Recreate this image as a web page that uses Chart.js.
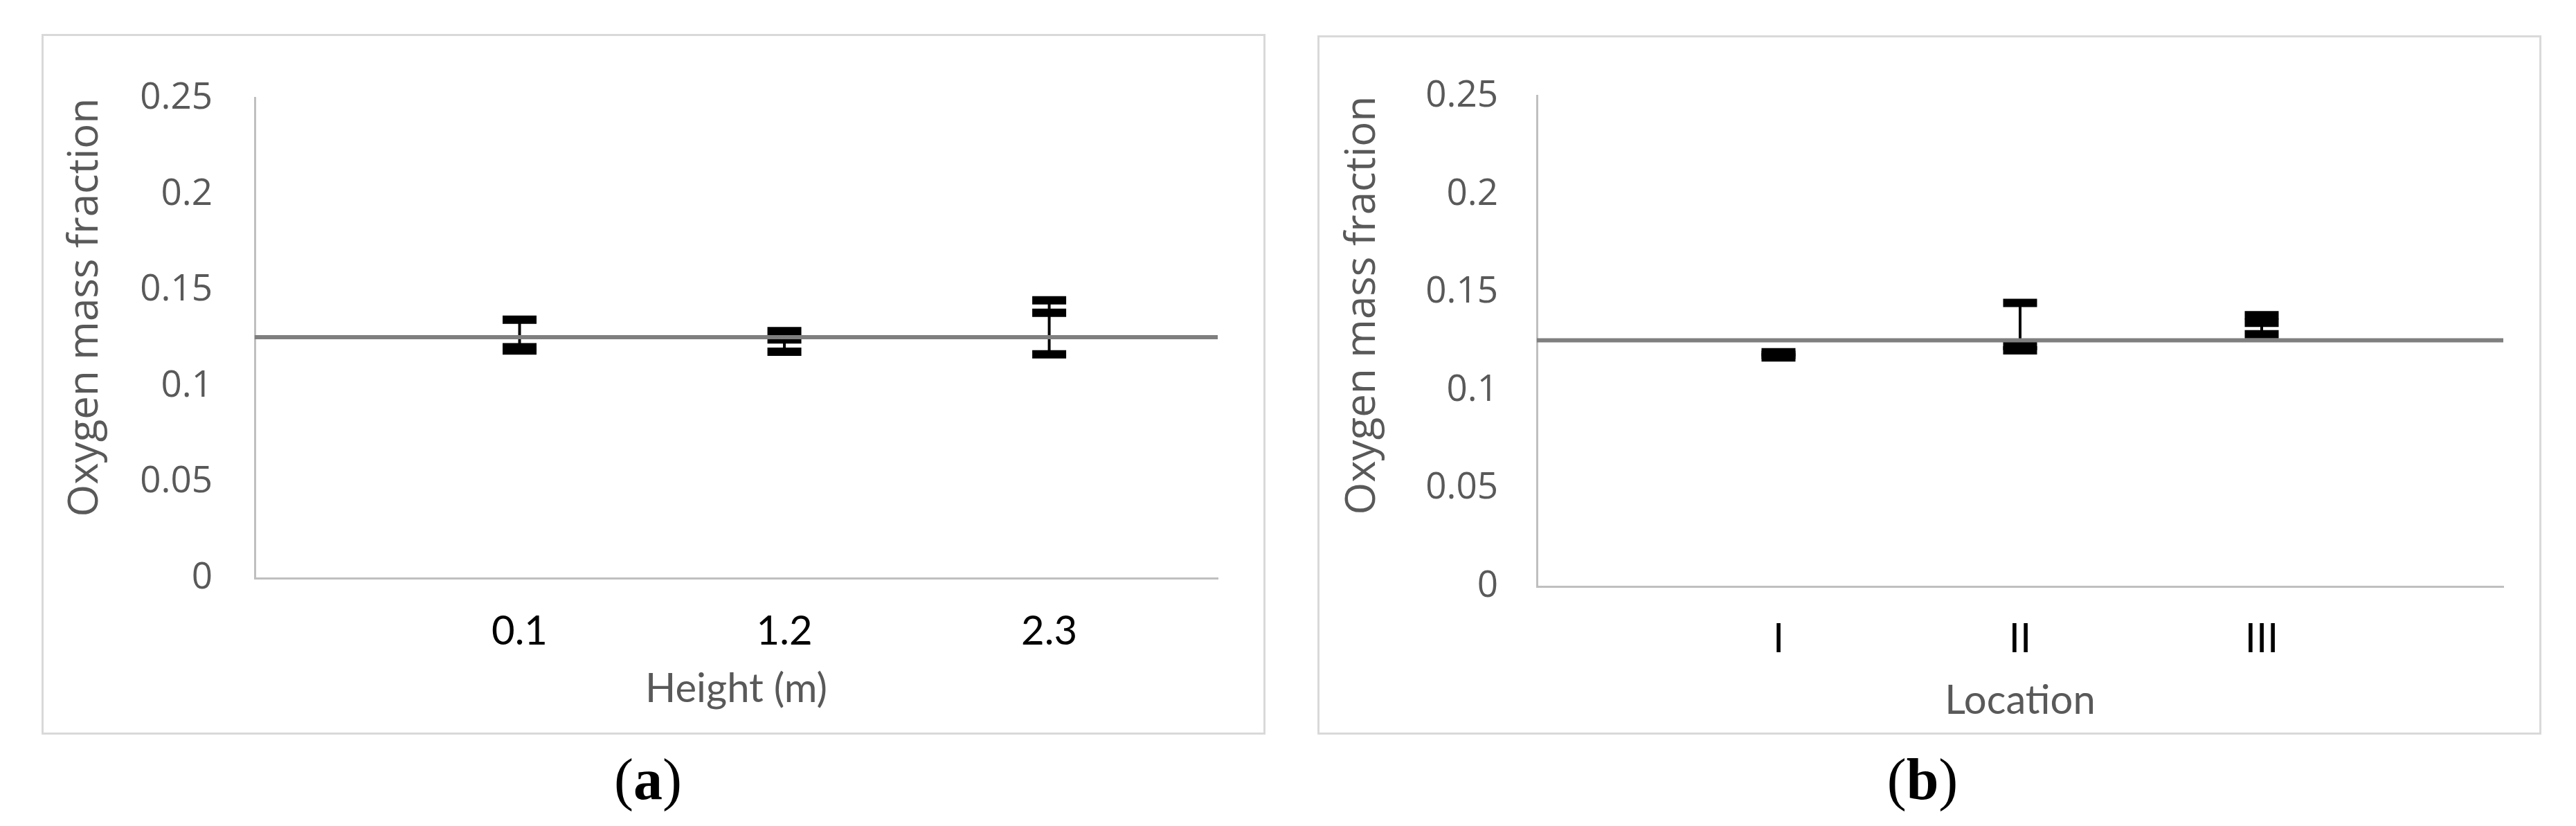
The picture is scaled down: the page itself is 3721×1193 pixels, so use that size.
<!DOCTYPE html>
<html>
<head>
<meta charset="utf-8">
<title>Oxygen mass fraction</title>
<script src="https://cdn.jsdelivr.net/npm/chart.js@4.4.1/dist/chart.umd.min.js"></script>
<style>
  body { margin: 0; background: #fff; width: 3721px; height: 1193px; position: relative; overflow: hidden; }
  .panel { position: absolute; box-sizing: border-box; border: 3px solid #d9d9d9; }
  .panel canvas { position: absolute; left: -3px; top: -3px; }
  .caption { position: absolute; top: 1084px; width: 400px; text-align: center;
             font-family: "Liberation Serif", "Times New Roman", serif; font-size: 84px; line-height: 84px; color: #000; }
</style>
</head>
<body>
<div class="panel" style="left:60px; top:49px; width:1768px; height:1012px;">
  <canvas id="chart-a" width="1768" height="1012" style="width:1768px; height:1012px;"></canvas>
</div>
<div class="panel" style="left:1903px; top:51px; width:1768px; height:1010px;">
  <canvas id="chart-b" width="1768" height="1010" style="width:1768px; height:1010px;"></canvas>
</div>
<div class="caption" style="left:736px;">(<b>a</b>)</div>
<div class="caption" style="left:2577px;">(<b>b</b>)</div>

<script>
// panel (a): oxygen mass fraction by height
let heights = [0.1, 1.2, 2.3];
let heightHigh = [0.1346, 0.1287, 0.1447];
let heightMid = [0.1203, 0.1243, 0.1382];
let heightLow = [0.1186, 0.1179, 0.1166];

// panel (b): oxygen mass fraction by location
let locations = ["I", "II", "III"];
let locationX = [1, 2, 3];
let locationHigh = [0.1194, 0.1446, 0.1383];
let locationMid = [0.1181, 0.1226, 0.1344];
let locationLow = [0.1168, 0.1204, 0.1286];

// horizontal reference level and y axis ticks
let refValue = 0.1255;
let yTicks = [0, 0.05, 0.1, 0.15, 0.2, 0.25];

const grey = "#595959";

function buildDatasets(xs, high, mid, low, xMin, xMax) {
  let sets = [];

  // reference line across the whole plot
  sets.push({
    type: "line",
    data: [{ x: xMin, y: refValue }, { x: xMax, y: refValue }],
    borderColor: "#7f7f7f",
    borderWidth: 6,
    pointRadius: 0,
    order: 0,
  });

  // vertical whiskers from low to high
  xs.forEach((x, i) => {
    sets.push({
      type: "line",
      data: [{ x: x, y: low[i] }, { x: x, y: high[i] }],
      borderColor: "#000",
      borderWidth: 4,
      pointRadius: 0,
      order: 2,
    });
  });

  // caps
  let caps = [];
  xs.forEach((x, i) => {
    caps.push({ x: x, y: high[i] }, { x: x, y: mid[i] }, { x: x, y: low[i] });
  });
  sets.push({
    type: "scatter",
    data: caps,
    pointStyle: "line",
    pointRadius: 24.5,
    pointBorderWidth: 12,
    pointBorderColor: "#000",
    pointBackgroundColor: "#000",
    order: 1,
  });

  return sets;
}

function makeChart(id, o) {
  const ctx = document.getElementById(id).getContext("2d");
  return new Chart(ctx, {
    type: "scatter",
    data: { datasets: buildDatasets(o.xs, o.high, o.mid, o.low, o.xMin, o.xMax) },
    options: {
      responsive: false,
      animation: false,
      events: [],
      layout: { padding: { top: o.top, right: o.right, left: 0, bottom: 0 } },
      plugins: { legend: { display: false }, tooltip: { enabled: false } },
      scales: {
        x: {
          type: "linear",
          min: o.xMin,
          max: o.xMax,
          grid: { display: false, drawTicks: false },
          border: { display: true, color: "#bfbfbf", width: 3 },
          afterFit: (s) => { s.height = o.xAxisHeight; },
          afterBuildTicks: (s) => { s.ticks = o.xs.map((v) => ({ value: v })); },
          ticks: {
            autoSkip: false,
            maxRotation: 0,
            padding: o.xTickPad,
            color: "#000",
            font: { family: "Lato", size: 58 },
            callback: (value, index) => o.labels[index],
          },
          title: {
            display: true,
            text: o.xTitle,
            color: grey,
            font: { family: "Lato", size: 58 },
            padding: { top: 0, bottom: o.xTitlePad },
          },
        },
        y: {
          min: 0,
          max: 0.25,
          grid: { display: false, drawTicks: false },
          border: { display: true, color: "#bfbfbf", width: 3 },
          afterFit: (s) => { s.width = o.yAxisWidth; },
          afterBuildTicks: (s) => { s.ticks = yTicks.map((v) => ({ value: v })); },
          ticks: {
            padding: o.yTickPad,
            color: grey,
            font: { family: "Open Sans", size: 53 },
            callback: (value) => String(+value.toFixed(2)),
          },
          title: {
            display: true,
            align: "end",
            text: "Oxygen mass fraction",
            color: grey,
            font: { family: "Open Sans", size: 60 },
            padding: { top: o.yTitlePad, bottom: 0 },
          },
        },
      },
    },
  });
}

makeChart("chart-a", {
  xs: heights, labels: heights.map(String),
  high: heightHigh, mid: heightMid, low: heightLow,
  xMin: -1, xMax: 3, xTitle: "Height (m)",
  top: 46, right: 69, xAxisHeight: 226, yAxisWidth: 308,
  xTickPad: 42, xTitlePad: 31, yTickPad: 61, yTitlePad: 27.5,
});

makeChart("chart-b", {
  xs: locationX, labels: locations,
  high: locationHigh, mid: locationMid, low: locationLow,
  xMin: 0, xMax: 4, xTitle: "Location",
  top: 65, right: 55, xAxisHeight: 214, yAxisWidth: 317,
  xTickPad: 41, xTitlePad: 14, yTickPad: 56, yTitlePad: 29.5,
});
</script>
</body>
</html>
